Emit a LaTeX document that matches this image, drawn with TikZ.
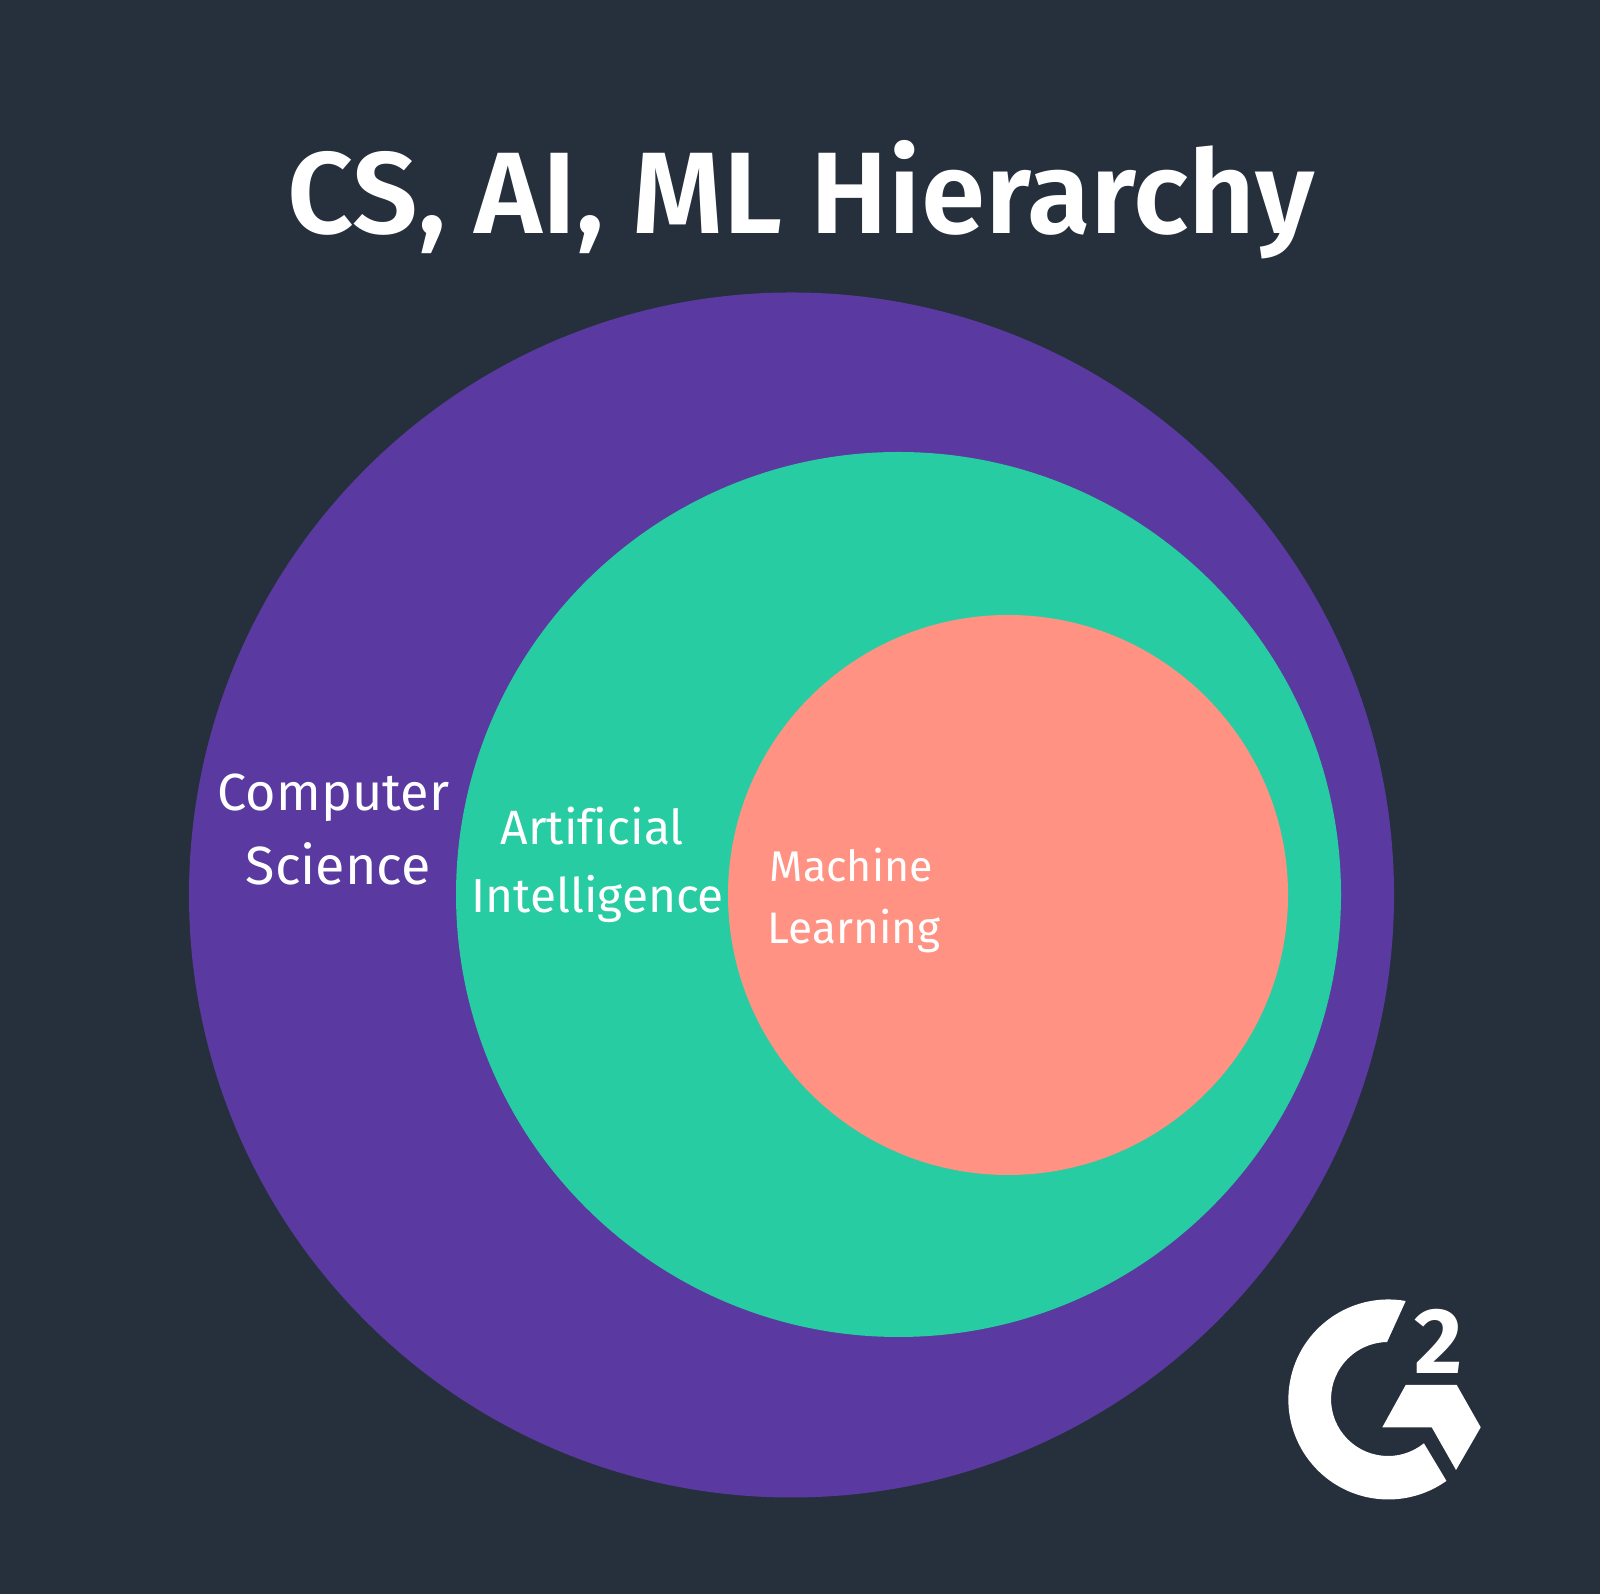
\documentclass[tikz,border=0pt]{standalone}
\usepackage{fontspec}
\setmainfont[Ligatures=NoCommon]{Fira Sans}
\newfontfamily\titlefont{Fira Sans SemiBold}
\usetikzlibrary{positioning}
\definecolor{bgcol}{HTML}{262F3C}
\definecolor{cscol}{HTML}{5A39A0}
\definecolor{aicol}{HTML}{27CCA2}
\definecolor{mlcol}{HTML}{FF9282}
\tikzset{
  area/.style={circle,inner sep=0pt},
  areatext/.style={text=white,anchor=base west,inner sep=0pt},
}
\begin{document}
\begin{tikzpicture}
  \fill[bgcol] (0,0) rectangle (16,15.94);
  \node[anchor=base west,inner sep=0pt,text=white,font=\fontsize{33}{36}\titlefont] (title) at (2.87,13.60) {CS, AI, ML Hierarchy};
  \node[area,fill=cscol,minimum size=12.05cm] (cs) at (7.915,6.99) {};
  \node[area,fill=aicol,minimum size=8.85cm] (ai) at (8.985,6.995) {};
  \node[area,fill=mlcol,minimum size=5.6cm] (ml) at (10.08,6.99) {};
  \node[areatext,font=\fontsize{14.85}{16}\selectfont] (cstop) at (2.17,7.83) {Computer};
  \node[areatext,font=\fontsize{15.3}{16}\selectfont] (csbot) at (2.45,7.09) {Science};
  \node[areatext,font=\fontsize{13.7}{16}\selectfont] (aitop) at (5.00,7.49) {Artificial};
  \node[areatext,font=\fontsize{13.6}{16}\selectfont] (aibot) at (4.71,6.81) {Intelligence};
  \node[areatext,font=\fontsize{12.2}{16}\selectfont] (mltop) at (7.69,7.12) {Machine};
  \node[areatext,font=\fontsize{12.55}{16}\selectfont] (mlbot) at (7.67,6.50) {Learning};
  \fill[white] (14.057,2.93) arc[start angle=80,end angle=305.5,radius=1] -- (14.239,1.507) arc[start angle=309,end angle=91,radius=.57] -- cycle;
  \fill[white] (14.057,2.09) -- (14.567,2.09) -- (14.807,1.667) -- (14.56,1.24) -- (14.317,1.667) -- (13.823,1.667) -- cycle;
  \node[anchor=base,inner sep=0pt,text=white,font=\fontsize{26.5}{26}\selectfont\bfseries] (two) at (14.39,2.20) {2};
\end{tikzpicture}
\end{document}
